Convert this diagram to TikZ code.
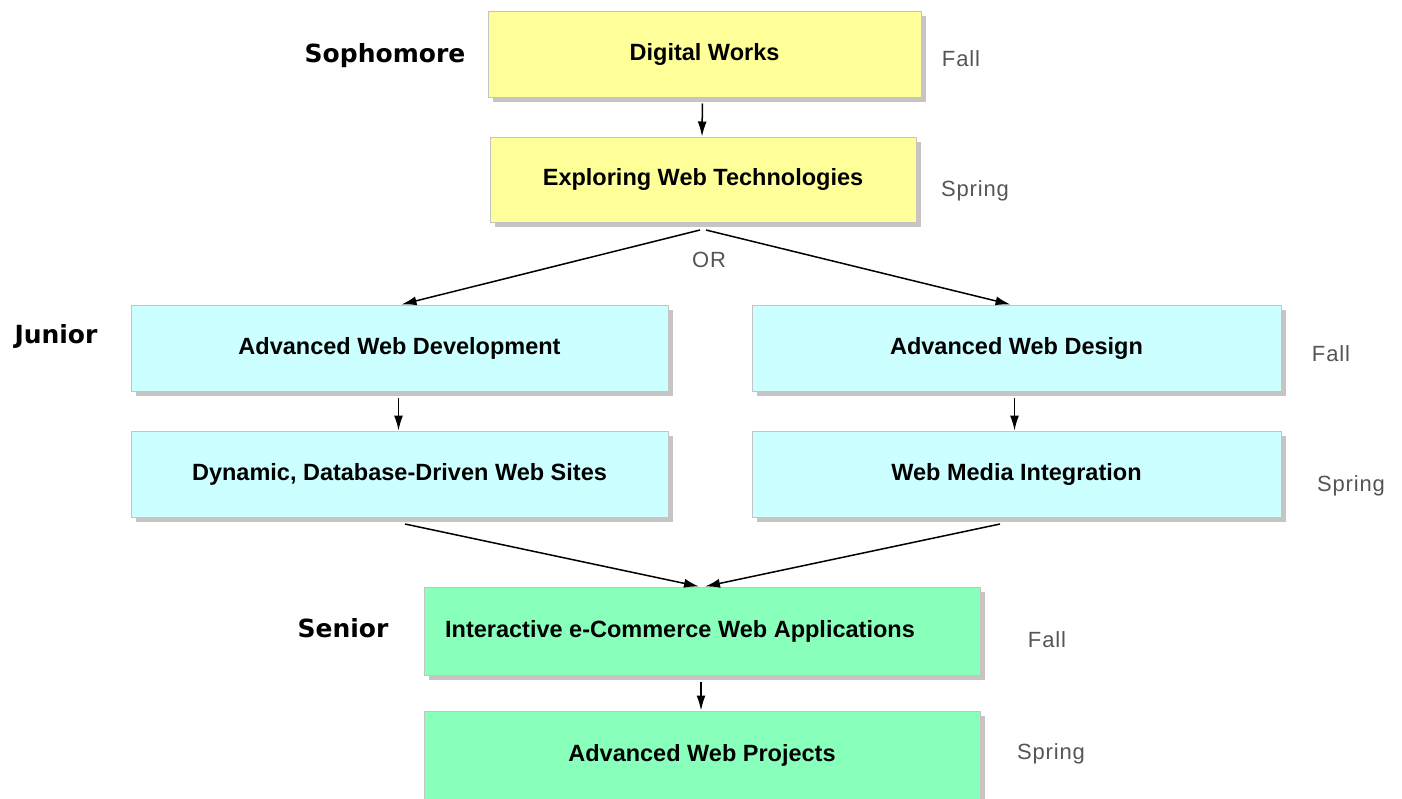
\documentclass[tikz,border=0pt]{standalone}
\usepackage{fontspec}
\setmainfont{Liberation Sans}
\newfontfamily\yearfont{DejaVu Sans}
\newfontfamily\termfont[LetterSpace=4]{Liberation Sans}
\usetikzlibrary{shadows,arrows.meta}
\definecolor{boxyellow}{HTML}{FFFF99}
\definecolor{boxcyan}{HTML}{CCFFFF}
\definecolor{boxgreen}{HTML}{88FFBB}
\definecolor{shadowgray}{HTML}{C8C4C4}
\definecolor{bordergray}{HTML}{C4C4C4}
\definecolor{termgray}{HTML}{555555}
\tikzset{
  course/.style={draw=bordergray, line width=1pt, minimum height=86pt, inner sep=0pt,
    font=\fontsize{23.5}{26}\selectfont\bfseries,
    drop shadow={shadow xshift=5pt, shadow yshift=-5pt, fill=shadowgray, opacity=1}},
  yellowbox/.style={course, fill=boxyellow},
  cyanbox/.style={course, fill=boxcyan},
  greenbox/.style={course, fill=boxgreen},
  year/.style={font=\yearfont\fontsize{25}{28}\selectfont\bfseries},
  term/.style={text=termgray, font=\termfont\fontsize{22}{25}\selectfont},
  link/.style={line width=1.5pt, -{Latex[length=15pt,width=9pt]}}
}
\begin{document}
\begin{tikzpicture}[x=1pt,y=-1pt]
\useasboundingbox (0,0) rectangle (1402,798);
% boxes
\node[yellowbox, minimum width=433pt] (dw) at (704.5,54) {Digital Works};
\node[yellowbox, minimum width=426pt, minimum height=85pt] (ewt) at (703,179.5) {Exploring Web Technologies};
\node[cyanbox, minimum width=537pt] (adev) at (399.5,348) {Advanced Web Development};
\node[cyanbox, minimum width=529pt] (ades) at (1016.5,348) {Advanced Web Design};
\node[cyanbox, minimum width=537pt] (dyn) at (399.5,474) {Dynamic, Database-Driven Web Sites};
\node[cyanbox, minimum width=529pt] (wmi) at (1016.5,474) {Web Media Integration};
\node[greenbox, minimum width=556pt, minimum height=88pt] (iec) at (702,631) {};
\node[font=\fontsize{23.5}{26}\selectfont\bfseries] (iect) at (680,631) {Interactive e-Commerce Web Applications};
\node[greenbox, minimum width=556pt, minimum height=88pt] (awp) at (702,755) {Advanced Web Projects};
% year labels
\node[year] (soph) at (385,56) {Sophomore};
\node[year] (jun) at (56,336) {Junior};
\node[year] (sen) at (343,628) {Senior};
% term labels
\node[term] (t1) at (961,59) {Fall};
\node[term] (t2) at (975,191) {Spring};
\node[term] (t3) at (1331,354) {Fall};
\node[term] (t4) at (1351,486) {Spring};
\node[term] (t5) at (1047,640) {Fall};
\node[term] (t6) at (1051,754) {Spring};
\node[term] (or) at (709,260) {OR};
% connector start points
\coordinate (forkL) at (700,230);
\coordinate (forkR) at (706,230);
\coordinate (dynOut) at (405,524);
\coordinate (wmiOut) at (1000,524);
% connectors
\draw[link, shorten <=6pt] ([xshift=-2pt]dw.south) -- ([xshift=-1pt]ewt.north);
\draw[link] (forkL) -- ([xshift=2pt]adev.north);
\draw[link] (forkR) -- ([xshift=-6pt]ades.north);
\draw[link, shorten <=6pt] ([xshift=-1pt]adev.south) -- ([xshift=-1pt]dyn.north);
\draw[link, shorten <=6pt] ([xshift=-2pt]ades.south) -- ([xshift=-2pt]wmi.north);
\draw[link] (dynOut) -- ([xshift=-3pt]iec.north);
\draw[link] (wmiOut) -- ([xshift=3pt]iec.north);
\draw[link, shorten <=6pt] ([xshift=-1pt]iec.south) -- ([xshift=-1pt]awp.north);
\end{tikzpicture}
\end{document}
